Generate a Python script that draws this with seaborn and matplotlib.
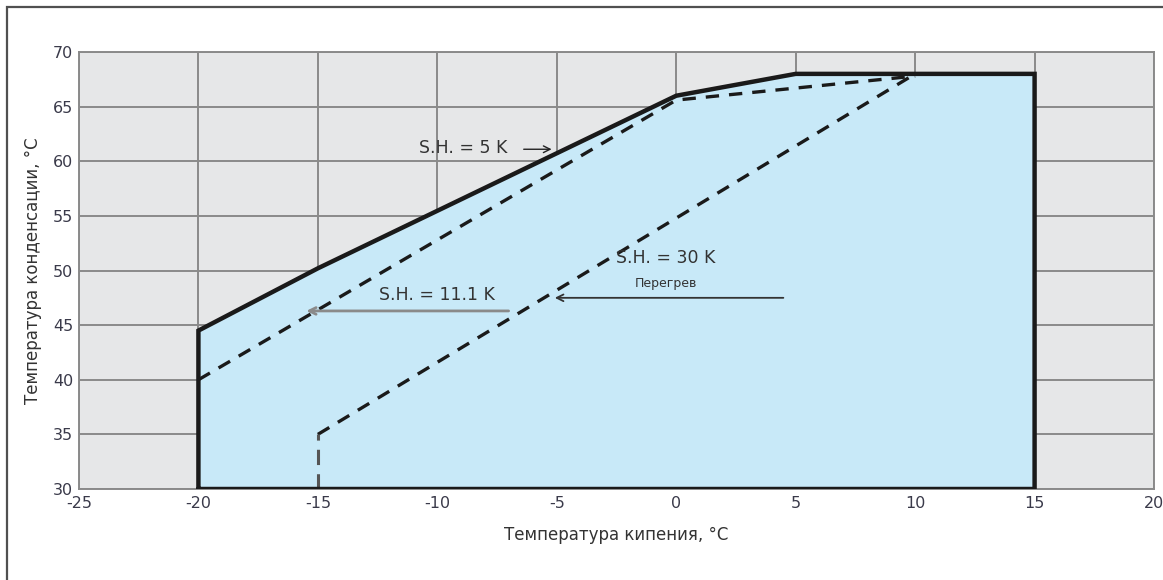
import seaborn as sns
import pandas as pd
import numpy as np
import matplotlib.pyplot as plt
from matplotlib.patches import Rectangle

# envelope (operating limits)
env_x = [-20, -20, -15, 0, 5, 15, 15, -20]
env_y = [30, 44.5, 50.2, 66, 68, 68, 30, 30]
# superheat lines
sh11_x = [-20, 0, 10]
sh11_y = [40, 65.6, 67.8]
sh30_x = [-15, 10]
sh30_y = [35, 68]
sh30v_x = [-15, -15]
sh30v_y = [30, 35]

x_ticks = [-25, -20, -15, -10, -5, 0, 5, 10, 15, 20]
y_ticks = [30, 35, 40, 45, 50, 55, 60, 65, 70]

sns.set_theme(style="whitegrid")
plt.rcParams['font.family'] = ['Liberation Sans Narrow', 'DejaVu Sans']
plt.rcParams['axes.unicode_minus'] = False

fig = plt.figure(figsize=(11.63, 5.8), dpi=100)
ax = fig.add_axes([0.0679, 0.1569, 0.9244, 0.7534])

# outer frame of the picture
fig.patches.append(Rectangle((7 / 1163, -0.05), 1.2, 1.05 - 7 / 580,
                             transform=fig.transFigure, fill=False,
                             edgecolor='#505050', linewidth=1.6))

ax.set_facecolor('#e6e7e8')
ax.fill(env_x, env_y, color='#c8e9f8', zorder=1)

df_env = pd.DataFrame({'x': env_x, 'y': env_y})
sns.lineplot(data=df_env, x='x', y='y', sort=False, estimator=None, color='#1a1a1a',
             linewidth=3.2, ax=ax, zorder=4, solid_joinstyle='miter')

sns.lineplot(x=sh11_x, y=sh11_y, sort=False, estimator=None, color='#1a1a1a',
             linewidth=2.4, ax=ax, zorder=3, linestyle=(0, (4, 3)))
sns.lineplot(x=sh30_x, y=sh30_y, sort=False, estimator=None, color='#1a1a1a',
             linewidth=2.4, ax=ax, zorder=3, linestyle=(0, (4, 3)))
sns.lineplot(x=sh30v_x, y=sh30v_y, sort=False, estimator=None, color='#555555',
             linewidth=2.2, ax=ax, zorder=3, linestyle=(0, (5, 3)))

ax.set_xlim(-25, 20)
ax.set_ylim(30, 70)
ax.set_xticks(x_ticks)
ax.set_yticks(y_ticks)
ax.grid(True, color='#8a8a8a', linewidth=1.4)
ax.set_axisbelow(True)
for s in ax.spines.values():
    s.set_color('#8a8a8a')
    s.set_linewidth(1.4)
ax.tick_params(axis='both', length=3, width=1.2, color='#8a8a8a',
               labelsize=11.5, labelcolor='#3a3a4a', pad=1)
ax.tick_params(axis='x', pad=2)

ax.set_xlabel('Температура кипения, °C', fontsize=12, color='#333333', labelpad=11)
ax.set_ylabel('Температура конденсации, °C', fontsize=12, color='#333333', labelpad=8)

# annotations
ax.text(-8.9, 61.2, 'S.H. = 5 K', fontsize=12.5, color='#333333', ha='center', va='center', zorder=5)
ax.annotate('', xy=(-5.1, 61.1), xytext=(-6.5, 61.1),
            arrowprops=dict(arrowstyle='->', color='#222222', lw=1.0), zorder=5)

ax.text(-10.0, 47.8, 'S.H. = 11.1 K', fontsize=12.5, color='#333333', ha='center', va='center', zorder=5)
ax.annotate('', xy=(-15.6, 46.3), xytext=(-6.9, 46.3),
            arrowprops=dict(arrowstyle='->', color='#8a8a8a', lw=2.0), zorder=5)

ax.text(-0.45, 51.1, 'S.H. = 30 K', fontsize=12.5, color='#333333', ha='center', va='center', zorder=5)
ax.text(-0.45, 48.8, 'Перегрев', fontsize=9, color='#333333', ha='center', va='center', zorder=5)
ax.annotate('', xy=(-5.2, 47.5), xytext=(4.6, 47.5),
            arrowprops=dict(arrowstyle='->', color='#333333', lw=1.3), zorder=5)

fig.savefig('out.png', dpi=100)
